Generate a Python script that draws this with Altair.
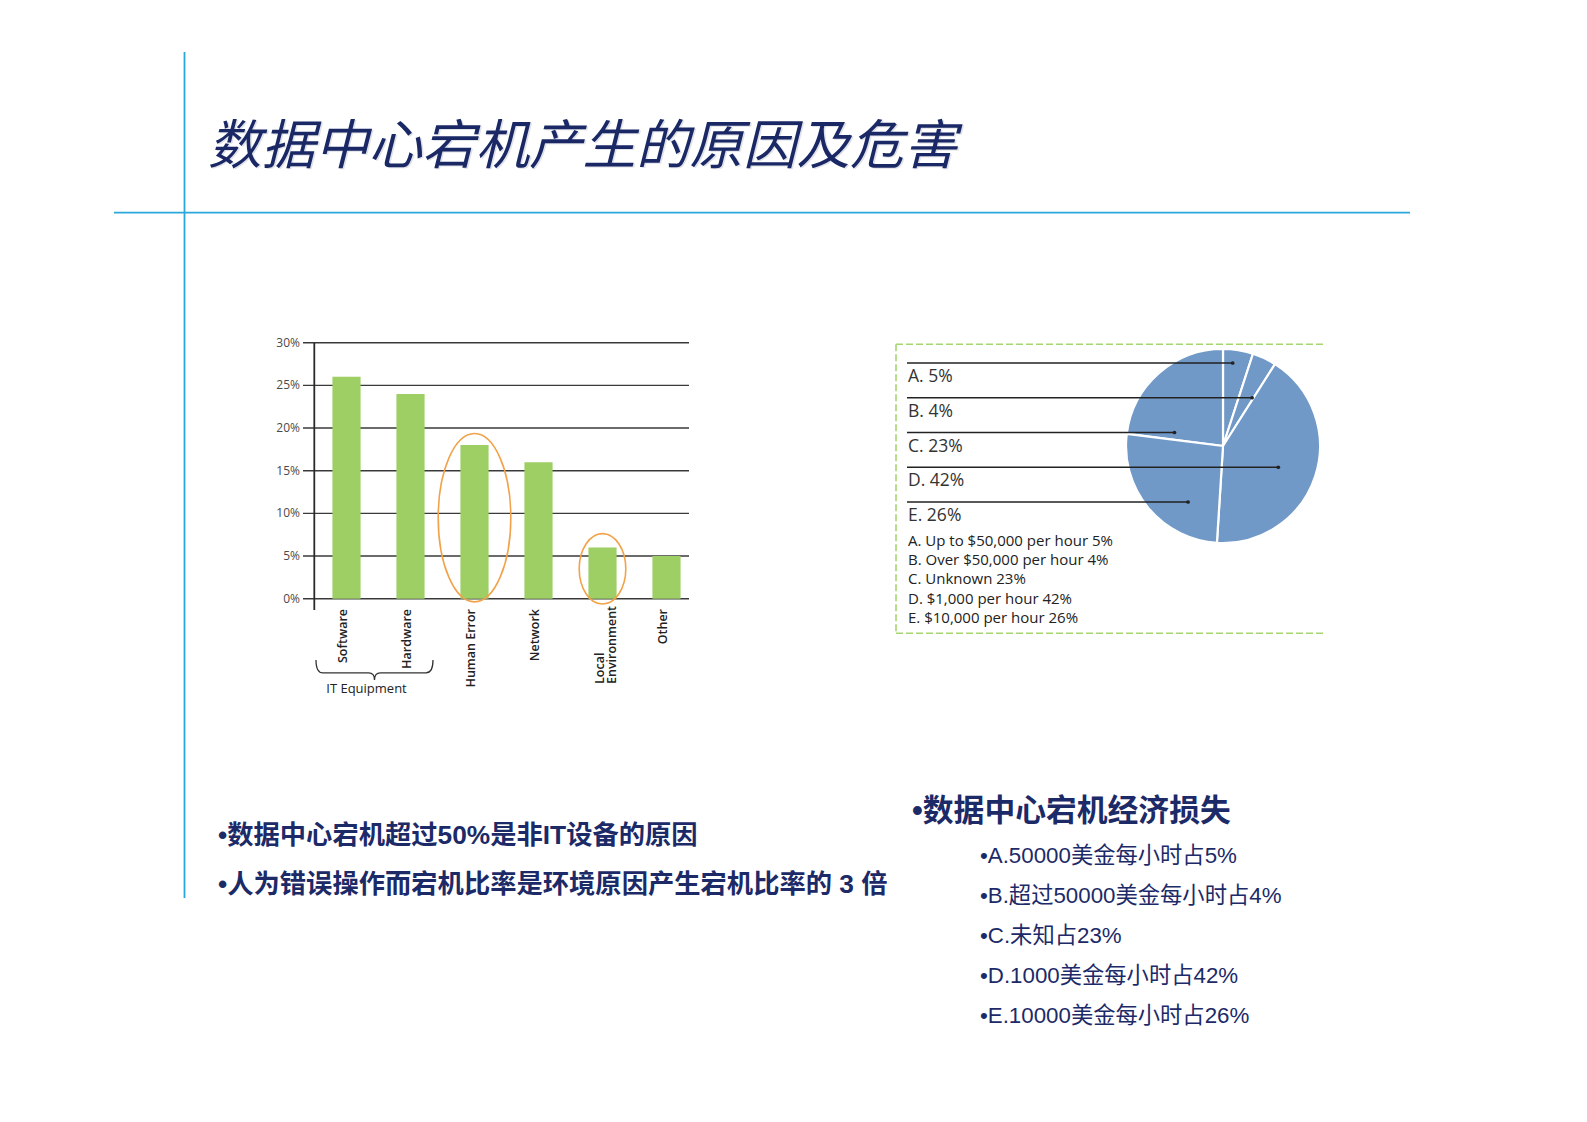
import altair as alt
import pandas as pd

# ------------------------------------------------------------------ data
title_text = "数据中心宕机产生的原因及危害"

categories = ["Software", "Hardware", "Human Error", "Network", "Local Environment", "Other"]
category_labels = ["Software", "Hardware", "Human Error", "Network", "Local\nEnvironment", "Other"]
downtime_share = [26, 24, 18, 16, 6, 5]
highlighted = ["Human Error", "Local Environment"]
y_ticks = [0, 5, 10, 15, 20, 25, 30]
y_tick_labels = ["0%", "5%", "10%", "15%", "20%", "25%", "30%"]
it_group = "IT Equipment"
it_members = ["Software", "Hardware"]

pie_keys = ["A", "B", "C", "D", "E"]
pie_values = [5, 4, 23, 42, 26]
pie_short_labels = ["A. 5%", "B. 4%", "C. 23%", "D. 42%", "E. 26%"]
pie_clockwise = ["A", "B", "D", "E", "C"]
pie_descriptions = [
    "A. Up to $50,000 per hour 5%",
    "B. Over $50,000 per hour 4%",
    "C. Unknown 23%",
    "D. $1,000 per hour 42%",
    "E. $10,000 per hour 26%",
]

left_notes = [
    "•数据中心宕机超过50%是非IT设备的原因",
    "•人为错误操作而宕机比率是环境原因产生宕机比率的 3 倍",
]
right_heading = "•数据中心宕机经济损失"
right_notes = [
    "•A.50000美金每小时占5%",
    "•B.超过50000美金每小时占4%",
    "•C.未知占23%",
    "•D.1000美金每小时占42%",
    "•E.10000美金每小时占26%",
]

# ------------------------------------------------------------------ layout helpers
M = 8  # page margin


def px(v):
    return v - M


NAVY = "#1c2a68"
FRAME = "#2aa8dc"
CJK = "Noto Sans CJK SC"
MIX = "Liberation Sans, Noto Sans CJK SC"
LAT = "Open Sans"


def one(d):
    return alt.Data(values=[d])


def rule(x1, y1, x2, y2, color, width, dash=None):
    kw = dict(color=color, strokeWidth=width)
    if dash:
        kw["strokeDash"] = dash
    return alt.Chart(one({"k": 0})).mark_rule(**kw).encode(
        x=alt.value(px(x1)), x2=alt.value(px(x2)),
        y=alt.value(px(y1)), y2=alt.value(px(y2)))


# ------------------------------------------------------------------ slide frame + title
frame_v = rule(184.5, 52, 184.5, 898, FRAME, 1.8)
frame_h = rule(114, 212.7, 1410, 212.7, FRAME, 1.8)

TITLE_SIZE = 53.5
title_shadow = alt.Chart(one({"t": title_text})).mark_text(
    align="left", baseline="alphabetic", font=CJK, fontSize=TITLE_SIZE, fontStyle="italic",
    fontWeight=400, color="#c2c6d2", opacity=0.5).encode(
    text="t:N", x=alt.value(px(209.5)), y=alt.value(px(164.8)))
title = alt.Chart(one({"t": title_text})).mark_text(
    align="left", baseline="alphabetic", font=CJK, fontSize=TITLE_SIZE, fontStyle="italic",
    fontWeight=400, color="#1a2966").encode(
    text="t:N", x=alt.value(px(208)), y=alt.value(px(163.5)))

# ------------------------------------------------------------------ bar chart
bar_df = pd.DataFrame({"category": categories, "label": category_labels, "value": downtime_share})
tick_df = pd.DataFrame({"tick": y_ticks, "label": y_tick_labels})

xs = alt.Scale(domain=categories, range=[px(314.5), px(698.5)], paddingInner=0.56, paddingOuter=0.28)
ys = alt.Scale(domain=[0, 30], range=[px(598.7), px(342.7)])
X = alt.X("category:N", scale=xs, axis=None)

grid = alt.Chart(tick_df).mark_rule(color="#3a3a3a", strokeWidth=1.4).encode(
    y=alt.Y("tick:Q", scale=ys, axis=None),
    x=alt.value(px(303)), x2=alt.value(px(689)))

tick_text = alt.Chart(tick_df).mark_text(
    align="right", baseline="middle", fontSize=12, font=LAT, color="#4a4a4a").encode(
    y=alt.Y("tick:Q", scale=ys, axis=None), x=alt.value(px(300)), text="label:N")

axis_line = alt.Chart(one({"k": 0})).mark_rule(color="#2a2a2a", strokeWidth=1.8).encode(
    x=alt.value(px(314.3)), y=alt.value(px(342.7)), y2=alt.value(px(610)))

bars = alt.Chart(bar_df).mark_bar(color="#9dcf65").encode(
    x=X, y=alt.Y("value:Q", scale=ys, axis=None))

single_df = bar_df[~bar_df["label"].str.contains("\n")]
multi_df = bar_df[bar_df["label"].str.contains("\n")]

labels_single = alt.Chart(single_df).mark_text(
    angle=270, align="right", baseline="middle", fontSize=12.5, font=LAT, fontWeight=600,
    color="#222222", xOffset=-4).encode(x=X, y=alt.value(px(609)), text="label:N")

labels_multi = alt.Chart(multi_df).mark_text(
    angle=270, align="left", baseline="middle", fontSize=12.5, font=LAT, fontWeight=600,
    color="#222222", xOffset=-3, lineBreak="\n", lineHeight=12).encode(
    x=X, y=alt.value(px(684)), text="label:N")


def ellipse_layer(cat, rx, ry):
    a = rx / ry
    path = f"M {-a:.3f} 0 A {a:.3f} 1 0 1 0 {a:.3f} 0 A {a:.3f} 1 0 1 0 {-a:.3f} 0 Z"
    return alt.Chart(bar_df[bar_df["category"] == cat]).transform_calculate(
        mid="datum.value / 2 + 0.5").mark_point(
        shape=path, size=(2 * ry) ** 2, filled=False, color="#f2a24a", strokeWidth=1.6,
        opacity=1).encode(x=X, y=alt.Y("mid:Q", scale=ys, axis=None))


ell_a = ellipse_layer(highlighted[0], 36.3, 84.2)
ell_b = ellipse_layer(highlighted[1], 23.3, 35.2)

brace_df = pd.DataFrame({"group": [it_group], "category": [it_members[0]]})
brace_path = ("M -1 -0.17 Q -1 0.05 -0.88 0.05 L -0.1 0.05 Q 0 0.05 0 0.17 "
              "Q 0 0.05 0.1 0.05 L 0.88 0.05 Q 1 0.05 1 -0.17")
brace = alt.Chart(brace_df).mark_point(
    shape=brace_path, size=117 ** 2, filled=False, color="#333333", strokeWidth=1.3,
    opacity=1, xOffset=28).encode(x=X, y=alt.value(px(670)))
brace_text = alt.Chart(brace_df).mark_text(
    align="center", baseline="middle", fontSize=13, font=LAT, color="#222222",
    xOffset=20).encode(x=X, y=alt.value(px(689)), text="group:N")

bar_group = alt.layer(grid, tick_text, axis_line, bars, labels_single, labels_multi,
                      ell_a, ell_b, brace, brace_text)

# ------------------------------------------------------------------ pie chart
CX, CY, R = 1223, 446, 97
pie_df = pd.DataFrame({"key": pie_keys, "value": pie_values, "short": pie_short_labels})
pie_df["ord"] = pie_df["key"].map({k: i for i, k in enumerate(pie_clockwise)})

pie = alt.Chart(pie_df).mark_arc(outerRadius=R, stroke="white", strokeWidth=2.2,
                                 color="#7099c8").encode(
    theta=alt.Theta("value:Q", stack=True),
    order=alt.Order("ord:Q"),
    x=alt.value(px(CX)), y=alt.value(px(CY)))

# leader end points, in pie-radius units from the centre (layout only)
leader_end = {"A": 0.10, "B": 0.30, "C": -0.50, "D": 0.57, "E": -0.36}
lead_df = pie_df.copy()
lead_df["end"] = lead_df["key"].map(leader_end)
lxs = alt.Scale(domain=[-1, 1], range=[px(CX - R), px(CX + R)])
lys = alt.Scale(type="point", domain=pie_keys, range=[px(363), px(502)], padding=0)

leaders = alt.Chart(lead_df).mark_rule(color="#222222", strokeWidth=1.4).encode(
    x=alt.X("end:Q", scale=lxs, axis=None), x2=alt.value(px(907)),
    y=alt.Y("key:O", scale=lys, axis=None))
leader_dots = alt.Chart(lead_df).mark_point(filled=True, size=14, color="#222222",
                                            opacity=1).encode(
    x=alt.X("end:Q", scale=lxs, axis=None), y=alt.Y("key:O", scale=lys, axis=None))
short_labels = alt.Chart(lead_df).mark_text(
    align="left", baseline="middle", fontSize=17.5, font=LAT, color="#333333", dy=14).encode(
    x=alt.value(px(908)), y=alt.Y("key:O", scale=lys, axis=None), text="short:N")

desc = alt.Chart(one({"t": "\n".join(pie_descriptions)})).mark_text(
    align="left", baseline="alphabetic", fontSize=15, font=LAT, fontWeight=500,
    color="#222222", lineBreak="\n", lineHeight=19.4).encode(
    text="t:N", x=alt.value(px(908)), y=alt.value(px(545.5)))

GREEN = "#a6d66f"
box_top = rule(896, 344.3, 1326, 344.3, GREEN, 1.6, [7, 3])
box_left = rule(896, 344.3, 896, 633.3, GREEN, 1.6, [7, 3])
box_bottom = rule(896, 633.3, 1326, 633.3, GREEN, 1.6, [7, 3])

pie_group = alt.layer(box_top, box_left, box_bottom, pie, leaders, leader_dots,
                      short_labels, desc)

# ------------------------------------------------------------------ notes
notes_left = alt.Chart(one({"t": "\n".join(left_notes)})).mark_text(
    align="left", baseline="alphabetic", font=MIX, fontSize=26.3, fontWeight="bold",
    color=NAVY, lineBreak="\n", lineHeight=48.5).encode(
    text="t:N", x=alt.value(px(218)), y=alt.value(px(844)))

heading_right = alt.Chart(one({"t": right_heading})).mark_text(
    align="left", baseline="alphabetic", font=MIX, fontSize=30.8, fontWeight="bold",
    color=NAVY).encode(text="t:N", x=alt.value(px(912)), y=alt.value(px(820.5)))

notes_right = alt.Chart(one({"t": "\n".join(right_notes)})).mark_text(
    align="left", baseline="alphabetic", font=MIX, fontSize=22.3, color=NAVY,
    lineBreak="\n", lineHeight=40).encode(
    text="t:N", x=alt.value(px(980)), y=alt.value(px(863)))

# ------------------------------------------------------------------ compose
chart = alt.layer(
    frame_v, frame_h, title_shadow, title, bar_group, pie_group,
    notes_left, heading_right, notes_right,
).resolve_scale(
    x="independent", y="independent"
).properties(
    width=1571, height=1106, padding=0,
    autosize=alt.AutoSizeParams(type="none"),
    background="white",
).configure_view(strokeWidth=0)

chart.save("out.html", embed_options={"renderer": "svg", "actions": False})
